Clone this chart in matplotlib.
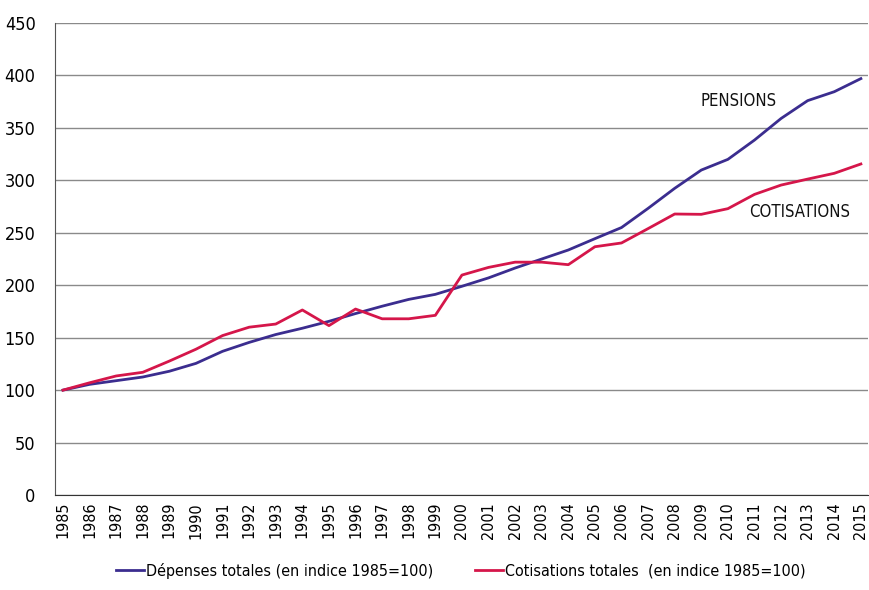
import matplotlib.pyplot as plt
import numpy as np

plt.rcParams['font.family'] = ['DejaVu Sans']
plt.rcParams['font.stretch'] = 'condensed'

years = list(range(1985, 2016))
pensions = [100, 105.5, 109, 112.5, 118, 125.5, 137, 145.5, 153, 159, 165.6,
            173, 180, 186.5, 191.3, 199, 207, 216.4, 225, 233.6, 244.4,
            255, 273.3, 292.4, 309.8, 320, 338.4, 359, 376, 384.5, 397]
cotisations = [100, 107, 113.5, 117, 127.7, 139, 152, 160, 163, 176.4, 161.5,
               177.3, 168, 168, 171.3, 209.7, 217, 222, 222, 219.6, 236.7,
               240.3, 254, 267.9, 267.6, 273, 286.6, 295.5, 301.2, 306.7, 315.6]
yticks = np.arange(0, 451, 50)

fig = plt.figure(figsize=(8.69, 5.90), dpi=100)
ax = fig.add_axes([0.0633, 0.161, 0.935, 0.800])

x = np.arange(len(years))
ax.plot(x, pensions, color='#3b2d8f', lw=2, label='Dépenses totales (en indice 1985=100)')
ax.plot(x, cotisations, color='#d5164a', lw=2, label='Cotisations totales  (en indice 1985=100)')

ax.set_xlim(-0.3, 30.25)
ax.set_ylim(0, 450)
ax.set_yticks(yticks)
ax.set_xticks(x)
ax.set_xticklabels([str(y) for y in years], rotation=90, fontsize=11.5)
ax.tick_params(axis='y', labelsize=13, length=0, pad=14)
ax.tick_params(axis='x', length=0, pad=5)
ax.grid(axis='y', color='#8a8a8a', lw=1)
ax.set_axisbelow(True)
for s in ['top', 'right']:
    ax.spines[s].set_visible(False)
ax.spines['left'].set_color('#555555')
ax.spines['bottom'].set_color('#333333')

ax.text(25.4, 376, 'PENSIONS', fontsize=12, ha='center', va='center', color='#111111')
ax.text(27.7, 270, 'COTISATIONS', fontsize=12, ha='center', va='center', color='#111111')

fig.legend(loc='lower center', bbox_to_anchor=(0.53, -0.005), ncol=2, frameon=False,
           fontsize=11.5, handlelength=1.8, handletextpad=0.1, columnspacing=2.6)

fig.savefig('out.png', dpi=100)
